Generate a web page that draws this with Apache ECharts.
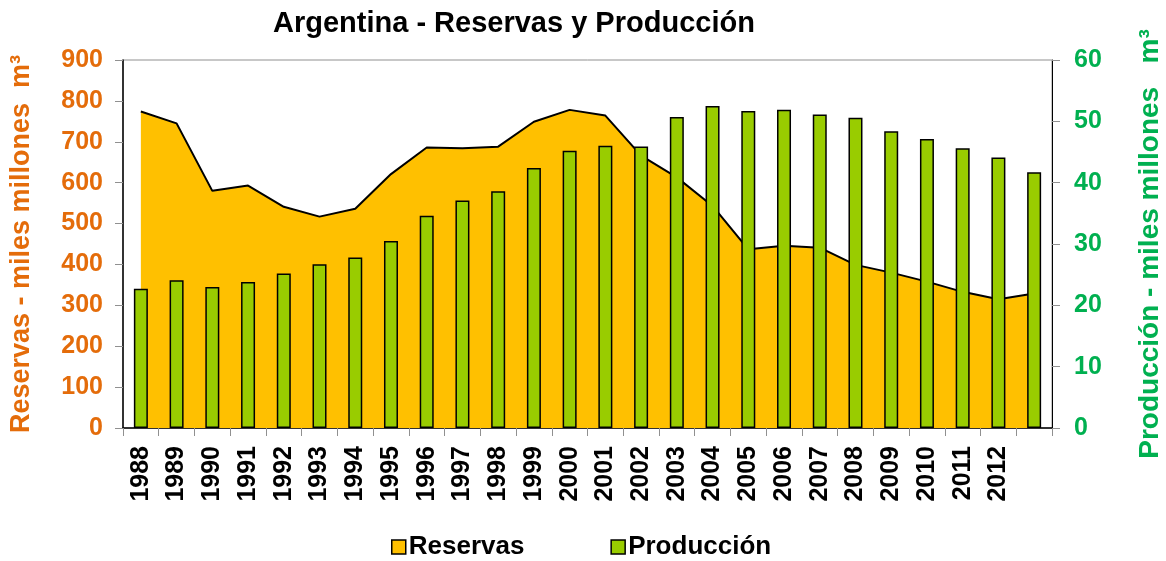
<!DOCTYPE html>
<html>
<head>
<meta charset="utf-8">
<script src="https://cdn.jsdelivr.net/npm/echarts@6/dist/echarts.min.js"></script>
<style>
html,body{margin:0;padding:0;background:#fff;}
#chart{width:1166px;height:561px;}
</style>
</head>
<body>
<div id="chart"></div>
<script>
// categorias (la ultima barra no tiene etiqueta en el original)
var years = ['1988','1989','1990','1991','1992','1993','1994','1995','1996','1997','1998','1999','2000',
  '2001','2002','2003','2004','2005','2006','2007','2008','2009','2010','2011','2012',''];

// reservas - miles millones m3 (eje izquierdo)
var reservas = [774,745,580,593,541,517,536,621,686,684,688,749,778,
  764,666,613,543,437,446,441,399,380,358,333,315,329];

// produccion - miles millones m3 (eje derecho)
var produccion = [22.7,24.1,23.0,23.8,25.2,26.7,27.8,30.5,34.6,37.1,38.6,42.4,45.2,
  46.0,45.9,50.7,52.5,51.7,51.9,51.1,50.6,48.4,47.1,45.6,44.1,41.7];

var font = 'Arial, "Liberation Sans", sans-serif';
var naranja = '#E46C0A';
var verde = '#00B050';

var myChart = echarts.init(document.getElementById('chart'));
myChart.setOption({
  animation: false,
  backgroundColor: '#fff',
  title: {
    text: 'Argentina - Reservas y Producción',
    left: 268, top: 4,
    textStyle: {fontFamily: font, fontSize: 29, fontWeight: 'bold', color: '#000'}
  },
  legend: {
    bottom: -4, left: 386, itemGap: 86, itemWidth: 14, itemHeight: 14,
    textStyle: {fontFamily: font, fontSize: 26, fontWeight: 'bold', color: '#000', padding: [0, 0, 0, -2]},
    data: [
      {name: 'Reservas', icon: 'rect', itemStyle: {color: '#FFC000', borderColor: '#000', borderWidth: 1.5}},
      {name: 'Producción', icon: 'rect', itemStyle: {color: '#99CC00', borderColor: '#000', borderWidth: 1.5}}
    ]
  },
  grid: {
    left: 123, right: 114, top: 60, bottom: 133,
    outerBoundsMode: 'none',
    show: true, borderColor: '#909090', borderWidth: 1
  },
  xAxis: {
    type: 'category',
    data: years,
    boundaryGap: true,
    axisLine: {lineStyle: {color: '#000', width: 1.5}},
    axisTick: {show: true, length: 8, lineStyle: {color: '#909090'}},
    axisLabel: {
      interval: 0, rotate: 90, margin: 18,
      fontFamily: font, fontSize: 25, fontWeight: 'bold', color: '#000'
    },
    splitLine: {show: false}
  },
  yAxis: [
    {
      type: 'value', min: 0, max: 900, interval: 100, position: 'left',
      name: 'Reservas - miles millones  m³',
      nameLocation: 'middle', nameRotate: 90, nameGap: 88,
      nameTextStyle: {fontFamily: font, fontSize: 27, fontWeight: 'bold', color: naranja},
      axisLine: {show: true, lineStyle: {color: '#000', width: 1.5}},
      axisTick: {show: true, length: 8, lineStyle: {color: '#909090'}},
      axisLabel: {margin: 20, fontFamily: font, fontSize: 25, fontWeight: 'bold', color: naranja},
      splitLine: {show: false}
    },
    {
      type: 'value', min: 0, max: 60, interval: 10, position: 'right',
      name: 'Producción - miles millones   m³',
      nameLocation: 'middle', nameRotate: 90, nameGap: 84,
      nameTextStyle: {fontFamily: font, fontSize: 28, fontWeight: 'bold', color: verde},
      axisLine: {show: true, lineStyle: {color: '#000', width: 1}},
      axisTick: {show: true, length: 8, lineStyle: {color: '#909090'}},
      axisLabel: {margin: 22, fontFamily: font, fontSize: 25, fontWeight: 'bold', color: verde},
      splitLine: {show: false}
    }
  ],
  series: [
    {
      name: 'Reservas',
      type: 'line',
      yAxisIndex: 0,
      data: reservas,
      symbol: 'none',
      z: 1,
      itemStyle: {color: '#FFC000'},
      lineStyle: {color: '#000', width: 2},
      areaStyle: {color: '#FFC000', opacity: 1}
    },
    {
      name: 'Producción',
      type: 'bar',
      yAxisIndex: 1,
      data: produccion,
      barWidth: 14,
      z: 3,
      itemStyle: {color: '#99CC00', borderColor: '#000', borderWidth: 1.5}
    }
  ]
});
</script>
</body>
</html>
